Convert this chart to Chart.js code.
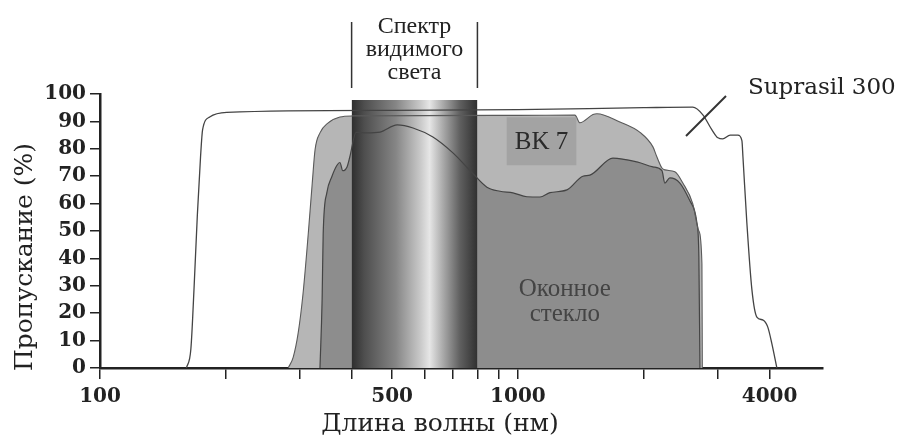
<!DOCTYPE html>
<html>
<head>
<meta charset="utf-8">
<script src="https://cdn.jsdelivr.net/npm/chart.js@4.4.0/dist/chart.umd.min.js"></script>
<style>
    html, body { margin: 0; padding: 0; background: #fff; }
</style>
</head>
<body>
<canvas id="chart" width="899" height="438"></canvas>
<script>
// Пропускание стёкол: Suprasil 300, BK 7, оконное стекло (длина волны в нм, пропускание в %)
const suprasilNm = [161, 165, 168, 171, 174, 176, 183, 201, 500, 1000, 2000, 2620, 2770, 2910, 3010, 3090, 3220, 3360, 3435, 3455, 3530, 3630, 3730, 3860, 3960, 4050, 4165];
const suprasilT  = [0, 7, 30, 56, 77, 87, 91.6, 93.3, 94, 94.3, 95, 95.2, 92.4, 87, 84, 83.6, 85, 85, 83, 77, 53, 28.5, 18.6, 17.5, 15, 9, 0];

const bk7Nm = [282, 290, 298, 306, 315, 322, 327, 336, 351, 375, 401, 1000, 1369, 1407, 1512, 1545, 1754, 1959, 2104, 2151, 2211, 2247, 2374, 2481, 2620, 2710, 2756, 2762];
const bk7T  = [0, 4, 12.8, 27, 49, 67.5, 79.6, 85.8, 89.4, 91.6, 92, 92.2, 92.3, 89.5, 92.5, 92.8, 89.8, 86, 80.7, 77, 73, 72.3, 71.6, 67.5, 60, 50, 38, 0];

const glassNm = [336, 340, 342, 349, 359, 369, 375, 381, 390, 396, 410, 435, 468, 514, 561, 626, 699, 780, 843, 906, 973, 1051, 1129, 1193, 1310, 1430, 1487, 1688, 1926, 2104, 2211, 2247, 2310, 2441, 2579, 2681, 2710, 2726];
const glassT  = [0, 25, 49, 64, 70, 74, 75, 72, 73.4, 77, 86, 85.8, 86.1, 88.7, 87.6, 84.3, 78.5, 71, 66, 64.5, 63.9, 62.5, 62.4, 64, 65, 70, 70.4, 76.6, 75.2, 73.4, 72, 67.5, 69.4, 67.5, 61, 53, 40.5, 0];

// Видимый спектр
const visibleNm = [400, 800];
const visibleTop = 97.8;

// Оси
const xTicks = [100, 200, 300, 400, 500, 600, 700, 800, 900, 1000, 2000, 3000, 4000];
const xLabeled = [100, 500, 1000, 4000];
const xMin = 100, xMax = 5370;

const SERIF = "'DejaVu Serif', serif";
const TIMES = "'Liberation Serif', serif";

const toPoints = (xs, ys) => xs.map((x, i) => ({ x, y: ys[i] }));

function bandGradient(c) {
    const chart = c.chart;
    const xs = chart.scales.x;
    if (!xs || !chart.chartArea) return '#777';
    const x0 = xs.getPixelForValue(visibleNm[0]);
    const x1 = xs.getPixelForValue(visibleNm[1]);
    const g = chart.ctx.createLinearGradient(x0, 0, x1, 0);
    g.addColorStop(0, '#2e2e2e');
    g.addColorStop(0.1, '#4e4e4e');
    g.addColorStop(0.35, '#858585');
    g.addColorStop(0.55, '#cacaca');
    g.addColorStop(0.62, '#e6e6e6');
    g.addColorStop(0.72, '#adadad');
    g.addColorStop(0.86, '#606060');
    g.addColorStop(1, '#303030');
    return g;
}

const bandPoints = [
    { x: visibleNm[0], y: 0 }, { x: visibleNm[0], y: visibleTop },
    { x: visibleNm[1], y: visibleTop }, { x: visibleNm[1], y: 0 }
];

// Подписи, рамка "BK 7", заголовки осей
const annotations = {
    id: 'annotations',
    afterDatasetsDraw(chart) {
        const { ctx, scales: { x, y } } = chart;
        ctx.save();
        // подложка подписи BK 7
        const bx0 = x.getPixelForValue(940), bx1 = x.getPixelForValue(1380);
        const by0 = y.getPixelForValue(91.5), by1 = y.getPixelForValue(74);
        ctx.fillStyle = '#a3a3a3';
        ctx.fillRect(bx0, by0, bx1 - bx0, by1 - by0);
        ctx.fillStyle = '#2a2a2a';
        ctx.font = '25px ' + TIMES;
        ctx.textAlign = 'center';
        ctx.textBaseline = 'middle';
        ctx.fillText('BK 7', (bx0 + bx1) / 2, (by0 + by1) / 2 + 1);
        // оконное стекло
        ctx.fillStyle = '#444';
        ctx.font = '25px ' + TIMES;
        const gx = x.getPixelForValue(1295);
        ctx.fillText('Оконное', gx, y.getPixelForValue(28.5));
        ctx.fillText('стекло', gx, y.getPixelForValue(19.7));
        ctx.restore();
    },
    afterDraw(chart) {
        const { ctx, scales: { x } } = chart;
        ctx.save();
        ctx.strokeStyle = '#333';
        ctx.fillStyle = '#222';
        // скобки видимого спектра
        const l = x.getPixelForValue(visibleNm[0]), r = x.getPixelForValue(visibleNm[1]);
        ctx.lineWidth = 1.5;
        ctx.beginPath();
        ctx.moveTo(l, 22); ctx.lineTo(l, 88);
        ctx.moveTo(r, 22); ctx.lineTo(r, 88);
        ctx.stroke();
        ctx.font = '24px ' + TIMES;
        ctx.textAlign = 'center';
        ctx.textBaseline = 'middle';
        const cx = (l + r) / 2;
        ctx.fillText('Спектр', cx, 27);
        ctx.fillText('видимого', cx, 50);
        ctx.fillText('света', cx, 73);
        // Suprasil 300
        ctx.font = '23px ' + SERIF;
        ctx.textAlign = 'left';
        ctx.fillText('Suprasil 300', 748, 88);
        ctx.lineWidth = 2;
        ctx.beginPath();
        ctx.moveTo(686, 136); ctx.lineTo(726, 96);
        ctx.stroke();
        // заголовки осей
        ctx.font = '25px ' + SERIF;
        ctx.textAlign = 'center';
        ctx.fillText('Длина волны (нм)', 440, 424);
        ctx.translate(25, 257);
        ctx.rotate(-Math.PI / 2);
        ctx.fillText('Пропускание (%)', 0, 0);
        ctx.restore();
    }
};

const lineBase = { pointRadius: 0, cubicInterpolationMode: 'monotone' };

new Chart(document.getElementById('chart'), {
    type: 'line',
    data: {
        datasets: [
            { ...lineBase, label: 'Suprasil 300', data: toPoints(suprasilNm, suprasilT), borderColor: '#444', borderWidth: 1.3, fill: false, order: 1 },
            { ...lineBase, label: 'BK 7 контур', data: toPoints(bk7Nm, bk7T), borderColor: '#5a5a5a', borderWidth: 1.1, fill: false, order: 2 },
            { ...lineBase, label: 'Оконное стекло контур', data: toPoints(glassNm, glassT), borderColor: '#444', borderWidth: 1.2, fill: false, order: 3 },
            { label: 'Видимый спектр', data: bandPoints, pointRadius: 0, tension: 0, borderWidth: 0, fill: 'origin', backgroundColor: bandGradient, order: 4 },
            { ...lineBase, label: 'Оконное стекло', data: toPoints(glassNm, glassT), borderWidth: 0, fill: 'origin', backgroundColor: '#8d8d8d', order: 5 },
            { ...lineBase, label: 'BK 7', data: toPoints(bk7Nm, bk7T), borderWidth: 0, fill: 'origin', backgroundColor: '#b6b6b6', order: 6 }
        ]
    },
    options: {
        responsive: false,
        devicePixelRatio: 1,
        animation: false,
        layout: { padding: { top: 94, right: 76, left: 0, bottom: 0 } },
        plugins: { legend: { display: false }, tooltip: { enabled: false } },
        scales: {
            x: {
                type: 'logarithmic',
                min: xMin,
                max: xMax,
                afterBuildTicks: s => { s.ticks = xTicks.map(v => ({ value: v })); },
                afterFit: s => { s.height = 70; },
                grid: { drawOnChartArea: false, drawTicks: true, tickLength: 11, color: '#222', lineWidth: 1.5 },
                border: { display: true, color: '#222', width: 2.5 },
                ticks: {
                    autoSkip: false,
                    maxRotation: 0,
                    padding: 6,
                    color: '#222',
                    font: { family: SERIF, size: 20, weight: 'bold' },
                    callback: v => xLabeled.includes(v) ? String(v) : ''
                }
            },
            y: {
                min: 0,
                max: 100,
                afterFit: s => { s.width = 100; },
                grid: { drawOnChartArea: false, drawTicks: true, tickLength: 10, color: '#222', lineWidth: 1.5 },
                border: { display: true, color: '#222', width: 2.5 },
                ticks: {
                    stepSize: 10,
                    padding: 4,
                    color: '#222',
                    font: { family: SERIF, size: 20, weight: 'bold' }
                }
            }
        }
    },
    plugins: [annotations]
});
</script>
</body>
</html>
